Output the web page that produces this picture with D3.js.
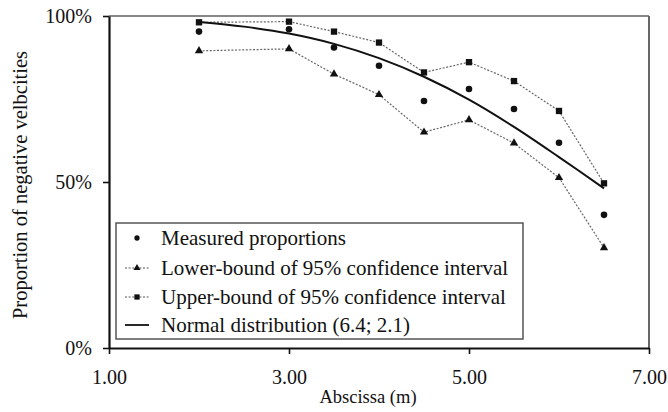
<!DOCTYPE html>
<html>
<head>
<meta charset="utf-8">
<script src="https://cdn.jsdelivr.net/npm/d3@7"></script>
<style>
  html, body { margin: 0; padding: 0; background: #fff; }
  svg { display: block; }
  text { font-family: "Liberation Serif", "Times New Roman", serif; fill: #111; }
</style>
</head>
<body>
<svg id="chart" width="668" height="412"></svg>
<script>
// ---- data ----
const abscissa   = [2, 3, 3.5, 4, 4.5, 5, 5.5, 6, 6.5];
const measured   = [0.953, 0.960, 0.905, 0.850, 0.744, 0.780, 0.720, 0.618, 0.401];
const lowerBound = [0.895, 0.901, 0.825, 0.763, 0.650, 0.687, 0.617, 0.513, 0.302];
const upperBound = [0.981, 0.983, 0.953, 0.920, 0.830, 0.861, 0.804, 0.714, 0.496];
const normalX    = [2, 2.5, 3, 3.5, 4, 4.5, 5, 5.5, 6, 6.5];
const normalY    = [0.982, 0.968, 0.947, 0.916, 0.873, 0.817, 0.748, 0.666, 0.575, 0.481];
const xTicks = [1, 3, 5, 7];
const yTicks = [0, 0.5, 1];
const legendLabels = [
  "Measured proportions",
  "Lower-bound of 95% confidence interval",
  "Upper-bound of 95% confidence interval",
  "Normal distribution (6.4; 2.1)"
];
const xTitle = "Abscissa (m)";
const yTitle = "Proportion of negative velbcities";

// ---- layout ----
const svg = d3.select("#chart");
const x = d3.scaleLinear().domain([1, 7]).range([109, 649]);
const y = d3.scaleLinear().domain([0, 1]).range([348, 16]);

// frame (top / right)
svg.append("line").attr("x1", x(1)).attr("x2", x(7)).attr("y1", y(1)).attr("y2", y(1))
  .attr("stroke", "#888").attr("stroke-width", 2);
svg.append("line").attr("x1", x(7)).attr("x2", x(7)).attr("y1", y(1)).attr("y2", y(0))
  .attr("stroke", "#666").attr("stroke-width", 2);

// axes
const yAxis = svg.append("g").attr("transform", `translate(${x(1)},0)`)
  .call(d3.axisLeft(y).tickValues(yTicks).tickFormat(d3.format(".0%")).tickSize(6).tickSizeOuter(0).tickPadding(11));
const xAxis = svg.append("g").attr("transform", `translate(0,${y(0)})`)
  .call(d3.axisBottom(x).tickValues(xTicks).tickFormat(d3.format(".2f")).tickSize(6).tickSizeOuter(0).tickPadding(16));
[yAxis, xAxis].forEach(g => {
  g.select(".domain").attr("stroke", "#111").attr("stroke-width", 2.2);
  g.selectAll(".tick line").attr("stroke", "#111").attr("stroke-width", 1.6);
  g.selectAll(".tick text").style("font-family", '"Liberation Serif", serif').style("font-size", "20px").attr("fill", "#111");
});

// titles
svg.append("text").attr("x", 368).attr("y", 403).attr("text-anchor", "middle")
  .style("font-size", "18.5px").text(xTitle);
svg.append("text").attr("transform", `translate(27,${185}) rotate(-90)`).attr("text-anchor", "middle")
  .style("font-size", "20.5px").text(yTitle);

// series lines
const lineGen = d3.line().x(d => x(d[0])).y(d => y(d[1]));
const lowerPts = abscissa.map((a, i) => [a, lowerBound[i]]);
const upperPts = abscissa.map((a, i) => [a, upperBound[i]]);
const measPts  = abscissa.map((a, i) => [a, measured[i]]);
const normPts  = normalX.map((a, i) => [a, normalY[i]]);

[lowerPts, upperPts].forEach(pts => {
  svg.append("path").datum(pts).attr("d", lineGen).attr("fill", "none")
    .attr("stroke", "#666").attr("stroke-width", 1.2).attr("stroke-dasharray", "2,1.6");
});
svg.append("path").datum(normPts)
  .attr("d", d3.line().x(d => x(d[0])).y(d => y(d[1])).curve(d3.curveCatmullRom))
  .attr("fill", "none").attr("stroke", "#111").attr("stroke-width", 2);

const tri = d3.symbol().type(d3.symbolTriangle).size(30);
const sq  = d3.symbol().type(d3.symbolSquare).size(40);
const dot = d3.symbol().type(d3.symbolCircle).size(34);

svg.append("g").selectAll("path").data(lowerPts).join("path")
  .attr("d", tri).attr("transform", d => `translate(${x(d[0])},${y(d[1])})`).attr("fill", "#111");
svg.append("g").selectAll("path").data(upperPts).join("path")
  .attr("d", sq).attr("transform", d => `translate(${x(d[0])},${y(d[1])})`).attr("fill", "#111");
svg.append("g").selectAll("path").data(measPts).join("path")
  .attr("d", dot).attr("transform", d => `translate(${x(d[0])},${y(d[1])})`).attr("fill", "#111");

// legend
const lg = svg.append("g");
lg.append("rect").attr("x", 116).attr("y", 223).attr("width", 407).attr("height", 116)
  .attr("fill", "#fff").attr("stroke", "#555").attr("stroke-width", 1.5);
const rowY = [245, 275, 304, 332];
const symX = 137, lx1 = 125, lx2 = 149;
legendLabels.forEach((lab, i) => {
  const cy = rowY[i] - 7;
  if (i === 1 || i === 2) {
    lg.append("line").attr("x1", lx1).attr("x2", lx2).attr("y1", cy).attr("y2", cy)
      .attr("stroke", "#555").attr("stroke-width", 1.2).attr("stroke-dasharray", "2,1.6");
  }
  if (i === 3) {
    lg.append("line").attr("x1", lx1).attr("x2", lx2).attr("y1", cy).attr("y2", cy)
      .attr("stroke", "#111").attr("stroke-width", 1.8);
  }
  const sym = i === 0 ? d3.symbol().type(d3.symbolCircle).size(22)
            : i === 1 ? d3.symbol().type(d3.symbolTriangle).size(22)
            : i === 2 ? d3.symbol().type(d3.symbolSquare).size(28) : null;
  if (sym) lg.append("path").attr("d", sym).attr("transform", `translate(${symX},${cy})`).attr("fill", "#111");
  lg.append("text").attr("x", 161).attr("y", rowY[i]).style("font-size", "21px").text(lab);
});
</script>
</body>
</html>
